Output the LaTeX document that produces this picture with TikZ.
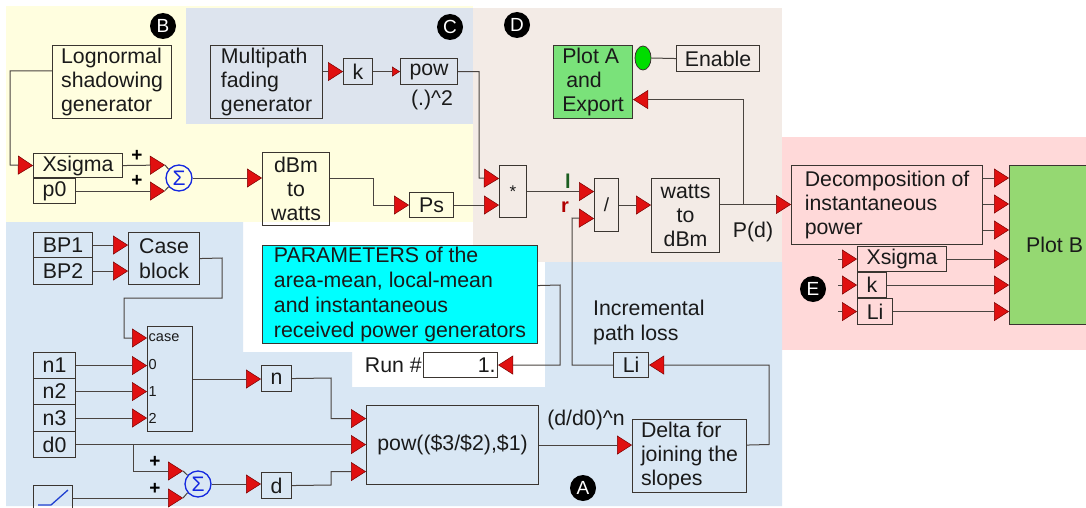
\documentclass[tikz,border=0pt]{standalone}
\usepackage{fontspec}
\setmainfont{Liberation Sans}
\usetikzlibrary{arrows.meta,shapes.geometric,calc}
\definecolor{bgB}{HTML}{FFFEDF}
\definecolor{bgC}{HTML}{DDE4EE}
\definecolor{bgD}{HTML}{F3EBE6}
\definecolor{bgE}{HTML}{FFD9D9}
\definecolor{bgA}{HTML}{D9E7F4}
\definecolor{linec}{HTML}{4A4440}
\definecolor{boxc}{HTML}{3A3530}
\definecolor{arrR}{HTML}{E01010}
\definecolor{arrD}{HTML}{7A0000}
\definecolor{cyanb}{HTML}{00FFFF}
\definecolor{greenA}{HTML}{7AE27A}
\definecolor{greenB}{HTML}{95D872}
\definecolor{ellG}{HTML}{00DD00}
\definecolor{sumblue}{HTML}{1428E0}
\definecolor{txt}{HTML}{1A1A1A}
\definecolor{lgreen}{HTML}{1B5E20}
\definecolor{rred}{HTML}{B00000}
\definecolor{rampblue}{HTML}{2040D0}
\newcommand\dgfont{\fontsize{21.3}{24.3}\selectfont}
\begin{document}
\begin{tikzpicture}[x=1pt,y=-1pt,
  box/.style={draw=boxc, line width=1.1pt, inner sep=0pt, anchor=north west, font=\dgfont, text=txt},
  conn/.style={draw=linec, line width=1pt},
  arr/.style={-{Triangle[length=15pt,width=19pt,color=arrD,fill=arrR,line width=0.5pt]}},
  arrs/.style={-{Triangle[length=8pt,width=10pt,color=arrD,fill=arrR,line width=0.5pt]}},
  lbl/.style={inner sep=0pt, font=\dgfont, text=txt},
  plus/.style={inner sep=0pt, font=\bfseries\fontsize{19}{19}\selectfont, text=black},
  port/.style={inner sep=0pt, anchor=west, font=\fontsize{14.5}{14.5}\selectfont, text=txt},
  badge/.style={circle, fill=black, inner sep=0pt, minimum size=26pt, text=white, font=\fontsize{19}{19}\selectfont},
  sumc/.style={circle, draw=sumblue, line width=1.3pt, inner sep=0pt, minimum size=26pt, text=sumblue, font=\fontsize{21}{21}\selectfont}
]
\useasboundingbox (0,0) rectangle (1086,508);
\clip (0,0) rectangle (1086,508);
\fill[white] (0,0) rectangle (1086,508);
% backgrounds
\fill[bgB] (6,6) rectangle (473,222);
\fill[bgC] (186,8) rectangle (473,124);
\fill[bgD] (473,8) rectangle (782,262);
\fill[bgE] (782,137) rectangle (1086,350);
\fill[bgA] (6,222) -- (243,222) -- (243,352) -- (352,352) -- (352,387) -- (545,387) -- (545,262) -- (782,262) -- (782,506) -- (6,506) -- cycle;

% badges
\node[badge] (bB) at (163,26) {B};
\node[badge] (bC) at (450,27) {C};
\node[badge] (bD) at (517,25) {D};
\node[badge] (bE) at (813,289) {E};
\node[badge] (bA) at (583,488) {A};

% region B
\node[box, minimum width=119pt, minimum height=73pt, align=left] (logn) at (52,45) {Lognormal\\shadowing\\generator};
\node[box, minimum width=89pt, minimum height=24pt] (xsig) at (33,153) {Xsigma};
\node[box, minimum width=42pt, minimum height=25pt] (p0) at (33,178) {p0};
\node[sumc] (sum1) at (179,178) {Σ};
\coordinate (s1a) at (165,165);
\coordinate (s1b) at (165,190.5);
\node[plus] (pl1) at (137,156) {+};
\node[plus] (pl2) at (137,181) {+};
\node[box, minimum width=67pt, minimum height=73pt, align=center] (dbm) at (262,152) {dBm\\to\\watts};
\node[box, minimum width=44pt, minimum height=25pt] (ps) at (409,192) {Ps};

% region C
\node[box, minimum width=112pt, minimum height=73pt, align=left] (mpath) at (210,45) {Multipath\\fading\\generator};
\node[box, minimum width=29pt, minimum height=26pt] (kC) at (343,58) {k};
\node[box, minimum width=57pt, minimum height=26pt] (pow) at (400,58) {pow};
\node[lbl] (sq) at (432,100) {(.)\textasciicircum 2};

% region D
\node[box, minimum width=27pt, minimum height=52pt, font=\fontsize{17}{17}\selectfont] (mult) at (499,165) {*};
\node[box, minimum width=24pt, minimum height=53pt, font=\fontsize{19}{19}\selectfont] (div) at (594,178) {/};
\node[box, minimum width=68pt, minimum height=74pt, align=center] (w2d) at (651,178) {watts\\to\\dBm};
\node[box, fill=greenA, minimum width=79pt, minimum height=73pt, align=left] (plotA) at (553,45) {Plot A\\\hspace{4pt}and\\Export};
\node[ellipse, draw=boxc, line width=0.8pt, fill=ellG, minimum width=16pt, minimum height=24pt, inner sep=0pt] (led) at (643,58) {};
\node[box, minimum width=83pt, minimum height=26pt] (enable) at (676,45) {Enable};
\node[inner sep=0pt, font=\bfseries\fontsize{20}{20}\selectfont, text=lgreen] (lI) at (568,181) {l};
\node[inner sep=0pt, font=\bfseries\fontsize{20}{20}\selectfont, text=rred] (lr) at (565,207) {r};
\node[lbl] (pd) at (753,232) {P(d)};
\coordinate (pj) at (743,204.5);

% region E
\node[box, minimum width=191pt, minimum height=79pt, align=left] (decomp) at (791,165) {Decomposition of\\instantaneous\\power};
\node[box, fill=greenB, minimum width=90pt, minimum height=159pt] (plotB) at (1009,165) {Plot B};
\node[box, minimum width=89pt, minimum height=25pt] (xs2) at (857,246) {Xsigma};
\node[box, minimum width=29pt, minimum height=25pt] (k2) at (857,272) {k};
\node[box, minimum width=35pt, minimum height=26pt] (li2) at (857,298) {Li};
\coordinate (ex) at (838,0);

% region A
\node[box, minimum width=59pt, minimum height=25pt] (bp1) at (33,232) {BP1};
\node[box, minimum width=59pt, minimum height=27pt] (bp2) at (33,257) {BP2};
\node[box, minimum width=71pt, minimum height=52pt, align=left] (caseb) at (128,232) {Case\\block};
\node[box, minimum width=45pt, minimum height=105pt] (casebox) at (147,326) {};
\node[port] (pcase) at (148.5,338) {case};
\node[port] (p0l) at (148.5,365) {0};
\node[port] (p1l) at (148.5,391.5) {1};
\node[port] (p2l) at (148.5,418) {2};
\node[box, minimum width=42pt, minimum height=26pt] (n1) at (33,352) {n1};
\node[box, minimum width=42pt, minimum height=26pt] (n2) at (33,378) {n2};
\node[box, minimum width=42pt, minimum height=27pt] (n3) at (33,404) {n3};
\node[box, minimum width=42pt, minimum height=26pt] (d0) at (33,431) {d0};
\node[box, minimum width=30pt, minimum height=26pt] (nbox) at (261,365) {n};
\node[box, minimum width=30pt, minimum height=26pt] (dbox) at (261,472) {d};
\node[box, minimum width=39pt, minimum height=30pt] (ramp) at (33,485) {};
\draw[rampblue, line width=1.3pt] (38,505) -- (51,505) -- (68,490);
\node[sumc] (sum2) at (198,484) {Σ};
\coordinate (s2a) at (183,471);
\coordinate (s2b) at (183,498);
\coordinate (dj) at (133,444);
\node[plus] (pl3) at (155,462) {+};
\node[plus] (pl4) at (155,489) {+};
\node[box, minimum width=172pt, minimum height=79pt] (pow2) at (366,405) {pow((\$3/\$2),\$1)};
\node[lbl] (ddn) at (586,420) {(d/d0)\textasciicircum n};
\node[box, minimum width=114pt, minimum height=73pt, align=left, font=\fontsize{21.3}{23.8}\selectfont] (delta) at (632,419) {Delta for\\joining the\\slopes};
\node[box, minimum width=35pt, minimum height=25pt] (li) at (613,352) {Li};
\node[lbl, anchor=west, align=left] (incr) at (593,322.5) {Incremental\\path loss};
\node[box, fill=cyanb, minimum width=275pt, minimum height=98pt, align=left, font=\fontsize{21.3}{25}\selectfont] (params) at (262,245) {PARAMETERS of the\\area-mean, local-mean\\and instantaneous\\received power generators};
\node[box, fill=white, minimum width=74pt, minimum height=25pt, text width=70pt, align=right] (run) at (423,352) {1.};
\node[lbl, anchor=east] (runl) at (422,365) {Run \#};

% connectors region B
\draw[conn,arr] ($(logn.north west)+(0,26)$) -- (10,71) -- (10,165) -- (xsig.west);
\draw[conn,arr] (xsig.east) -- (s1a);
\draw[conn] (s1a) -- (sum1.140);
\draw[conn,arr] (p0.east) -- (p0.east -| s1b);
\draw[conn] (s1b) -- (sum1.220);
\draw[conn,arr] (sum1.east) -- (sum1.east -| dbm.west);
\draw[conn,arr] (dbm.east |- sum1.east) -- (373,178) |- (ps.west);
\draw[conn,arr] (ps.east) -- (ps.east -| mult.west);
% region C
\draw[conn,arr] (mpath.east |- kC.west) -- (kC.west);
\draw[conn,arrs] (kC.east) -- (pow.west);
\draw[conn,arr] (pow.east) -| (479,178) -- ($(mult.west)+(0,-13)$);
% region D
\draw[conn,arr] (mult.east) -- (mult.east -| div.west);
\draw[conn,arr] (li.west) -| (572,218) -- ($(div.west)+(0,13.5)$);
\draw[conn,arr] (div.east) -- (div.east -| w2d.west);
\draw[conn,arr] (w2d.east |- pj) -- (pj) -- (pj -| decomp.west);
\draw[conn,arr] (pj) |- ($(plotA.east)+(0,17.5)$);
\draw[conn] (led.east) -- (enable.west);
% region E
\draw[conn,arr] ($(decomp.north east)+(0,13)$) -- ($(plotB.north west)+(0,13)$);
\draw[conn,arr] ($(decomp.north east)+(0,39)$) -- ($(plotB.north west)+(0,39)$);
\draw[conn,arr] ($(decomp.north east)+(0,65)$) -- ($(plotB.north west)+(0,65)$);
\draw[conn,arr] (xs2.east) -- (xs2.east -| plotB.west);
\draw[conn,arr] (k2.east) -- (k2.east -| plotB.west);
\draw[conn,arr] (li2.east) -- (li2.east -| plotB.west);
\draw[conn,arr] (xs2.west -| ex) -- (xs2.west);
\draw[conn,arr] (k2.west -| ex) -- (k2.west);
\draw[conn,arr] (li2.west -| ex) -- (li2.west);
% region A
\draw[conn,arr] (bp1.east) -- (bp1.east -| caseb.west);
\draw[conn,arr] (bp2.east) -- (bp2.east -| caseb.west);
\draw[conn,arr] (caseb.east) -- (222,258) -- (222,298) -- (124,298) |- ($(casebox.north west)+(0,12)$);
\draw[conn,arr] (n1.east) -- (n1.east -| casebox.west);
\draw[conn,arr] (n2.east) -- (n2.east -| casebox.west);
\draw[conn,arr] (n3.east) -- (n3.east -| casebox.west);
\draw[conn,arr] (casebox.east) -- (casebox.east -| nbox.west);
\draw[conn,arr] (nbox.east) -- (331,378) |- ($(pow2.west)+(0,-26.5)$);
\draw[conn,arr] (d0.east) -- (d0.east -| pow2.west);
\draw[conn,arr] (dj) |- (s2a);
\draw[conn] (s2a) -- (sum2.140);
\draw[conn,arr] (ramp.east |- s2b) -- (s2b);
\draw[conn] (s2b) -- (sum2.220);
\draw[conn,arr] (sum2.east) -- (sum2.east -| dbox.west);
\draw[conn,arr] (dbox.east) -- (331,485) |- ($(pow2.west)+(0,26.5)$);
\draw[conn,arr] (pow2.east) -- (pow2.east -| delta.west);
\draw[conn,arr] (delta.east |- pow2.east) -- (769,444.5) |- (li.east);
\draw[conn,arr] ($(params.east)+(0,-9)$) -- (560,285) |- (run.east);
\end{tikzpicture}
\end{document}
